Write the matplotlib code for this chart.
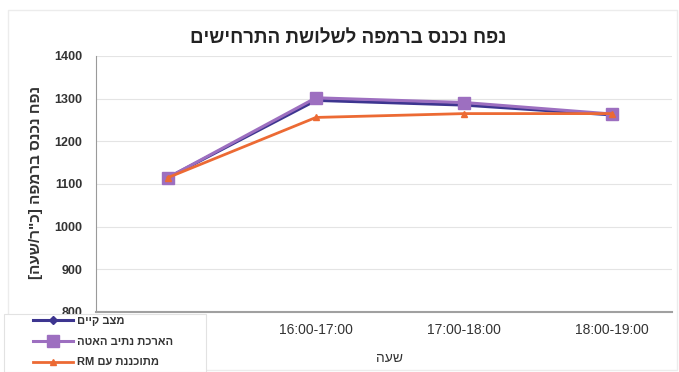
import matplotlib
matplotlib.use("Agg")
import matplotlib.pyplot as plt
from matplotlib.patches import Rectangle
import re

plt.rcParams['font.family'] = ['Liberation Sans', 'DejaVu Sans']

# ---- data ----
categories = ["15:00-16:00", "16:00-17:00", "17:00-18:00", "18:00-19:00"]
existing = [1115, 1296, 1285, 1262]
extension = [1115, 1302, 1291, 1264]
planned_rm = [1115, 1256, 1265, 1265]
series_names = ["מצב קיים", "הארכת נתיב האטה", "מתוכננת עם RM"]
title = "נפח נכנס ברמפה לשלושת התרחישים"
ylabel = 'נפח נכנס ברמפה [כ"ר/שעה]'
xlabel = "שעה"
yticks = [800, 900, 1000, 1100, 1200, 1300, 1400]

MIRROR = {"[": "]", "]": "[", "(": ")", ")": "("}


def vis(s):
    """Simple bidi: reverse RTL text for left-to-right rendering, keep Latin/digit runs."""
    out = s[::-1]
    out = re.sub(r"[A-Za-z0-9:\-]+", lambda m: m.group(0)[::-1], out)
    return "".join(MIRROR.get(c, c) for c in out)


W, H = 679, 372
fig = plt.figure(figsize=(W / 100, H / 100), dpi=100)
fig.patch.set_facecolor("white")
fig.patches.append(Rectangle((8 / W, 2 / H), 1 - 10 / W, 1 - 12 / H, transform=fig.transFigure,
                             facecolor="none", edgecolor="#ececec", lw=1))

ax = fig.add_axes([96 / W, 1 - 312 / H, (672 - 96) / W, (312 - 56) / H])
x = list(range(len(categories)))

ax.plot(x, existing, color="#3d3590", lw=2.2, marker="D", ms=4, label=vis(series_names[0]), zorder=3)
ax.plot(x, extension, color="#9d6fc0", lw=2.2, marker="s", ms=8, label=vis(series_names[1]), zorder=4)
ax.plot(x, planned_rm, color="#ec6a34", lw=2.0, marker="^", ms=5, label=vis(series_names[2]), zorder=5)

ax.set_xlim(-0.486, 3.405)
ax.set_ylim(800, 1400)
ax.set_yticks(yticks)
ax.set_yticklabels([str(v) for v in yticks], fontsize=9, fontweight="bold", color="#333333")
ax.set_xticks(x)
ax.set_xticklabels(categories, fontsize=10, color="#333333")
ax.tick_params(axis="y", length=0, pad=10)
ax.tick_params(axis="x", length=0, pad=8)
ax.grid(axis="y", color="#e4e4e4", lw=0.8)
ax.set_axisbelow(True)
for s in ["top", "right"]:
    ax.spines[s].set_visible(False)
ax.spines["left"].set_color("#9a9a9a")
ax.spines["bottom"].set_color("#a0a0a0")
ax.spines["bottom"].set_linewidth(1.5)

fig.text(348 / W, 1 - 38 / H, vis(title), ha="center", va="center", fontsize=13.5, fontweight="bold", color="#222222")
fig.text(36 / W, 1 - 182 / H, vis(ylabel), ha="center", va="center", rotation=90, fontsize=11,
         fontweight="bold", color="#333333")
fig.text(390 / W, 1 - 358 / H, vis(xlabel), ha="center", va="center", fontsize=10, color="#333333")

# legend box (white, covers lower-left corner like the reference)
fig.patches.append(Rectangle((4 / W, 0), 202 / W, 1 - 314 / H, transform=fig.transFigure,
                             facecolor="white", edgecolor="#e2e2e2", lw=0.8, zorder=9))
leg = fig.legend(loc="upper left", bbox_to_anchor=(30 / W, 1 - 313 / H), fontsize=8, frameon=False,
                 handlelength=3.6, handletextpad=0.35, labelspacing=0.95,
                 borderpad=0.3, borderaxespad=0)
for t in leg.get_texts():
    t.set_fontweight("bold")
    t.set_color("#333333")
leg.set_zorder(10)

fig.savefig("out.png", dpi=100)
